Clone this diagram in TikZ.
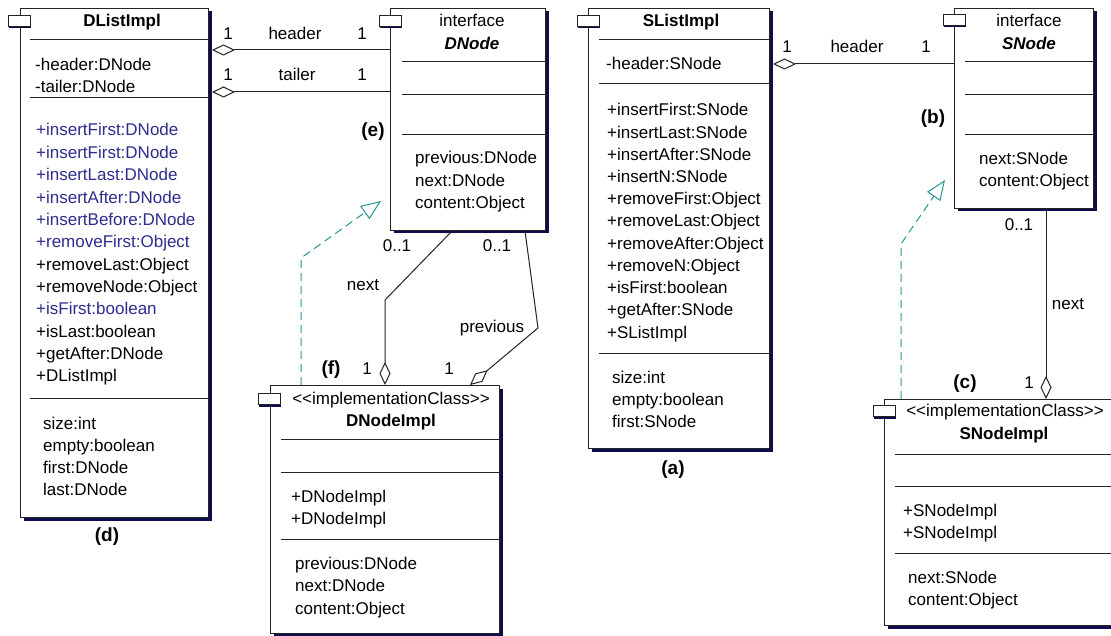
\documentclass[tikz,border=0pt]{standalone}
\usepackage{fontspec}
\setmainfont{Liberation Sans}
\usetikzlibrary{arrows.meta,shadows}
\definecolor{umlnavy}{RGB}{12,12,78}
\definecolor{umlblue}{RGB}{45,45,140}
\definecolor{umlteal}{RGB}{40,150,150}
\definecolor{umlline}{RGB}{35,35,35}

\tikzset{
  cls/.style={draw=umlline, fill=white, line width=1pt, anchor=north west, inner sep=0pt,
    drop shadow={shadow xshift=3pt, shadow yshift=-3pt, fill=umlnavy, opacity=1}},
  tabbox/.style={draw=umlline, fill=white, line width=1pt, anchor=north west, inner sep=0pt,
    minimum width=22pt, minimum height=11pt,
    drop shadow={shadow xshift=0pt, shadow yshift=-2pt, fill=umlnavy, opacity=1}},
  sep/.style={umlline, line width=1pt},
  txt/.style={anchor=west, inner sep=0pt, text height=12pt, text depth=0pt, font=\fontsize{17}{20}\selectfont},
  ctxt/.style={txt, anchor=center},
  ttl/.style={ctxt, font=\fontsize{17}{20}\selectfont\bfseries},
  tag/.style={ctxt, font=\fontsize{19}{22}\selectfont\bfseries},
  aggr/.style={umlline, line width=1pt, {Diamond[fill=white, length=23pt, width=11pt]}-},
  aggrend/.style={umlline, line width=1pt, -{Diamond[fill=white, length=23pt, width=11pt]}},
  realize/.style={umlteal, line width=1pt, dash pattern=on 8pt off 5pt, -{Triangle[open, length=20pt, width=16pt]}},
}
\newcommand{\stereo}[1]{<\kern0pt<#1>\kern0pt>}

\begin{document}
\begin{tikzpicture}[x=1pt,y=-1pt]
\fill[white] (0,0) rectangle (1111,636);
\useasboundingbox (0,0) rectangle (1111,636);

% DListImpl
\node[cls, minimum width=188pt, minimum height=509pt] (dlist) at (20,8) {};
\node[tabbox] (dlisttab) at (8,15) {};
\node[ttl] (dlistname) at (122,21) {DListImpl};
\draw[sep] (30,40) -- (208,40);
\draw[sep] (30,98) -- (208,98);
\draw[sep] (30,398) -- (208,398);
\node[txt] (dlh) at (35,65) {-header:DNode};
\node[txt] (dlt) at (35,87) {-tailer:DNode};
\foreach \t/\c [count=\i from 0] in {insertFirst:DNode/umlblue, insertFirst:DNode/umlblue,
    insertLast:DNode/umlblue, insertAfter:DNode/umlblue, insertBefore:DNode/umlblue,
    removeFirst:Object/umlblue, removeLast:Object/black, removeNode:Object/black,
    isFirst:boolean/umlblue, isLast:boolean/black, getAfter:DNode/black, DListImpl/black}
  \node[txt, text=\c] (dlop\i) at (36,130+22.36*\i) {+\t};
\node[txt] (dlsize) at (43,423) {size:int};
\node[txt] (dlempty) at (43,445) {empty:boolean};
\node[txt] (dlfirst) at (43,467) {first:DNode};
\node[txt] (dllast) at (43,489) {last:DNode};
\node[tag] (tagd) at (107,535) {(d)};

% DNode
\node[cls, minimum width=155pt, minimum height=222pt] (dnode) at (390,8) {};
\node[tabbox] (dnodetab) at (379,15) {};
\node[ctxt] (dnodest) at (472,21) {interface};
\node[ttl, font=\fontsize{17}{20}\selectfont\bfseries\itshape] (dnodename) at (472,44) {DNode};
\draw[sep] (402,62) -- (545,62);
\draw[sep] (402,95) -- (545,95);
\draw[sep] (402,135) -- (545,135);
\node[txt] (dnprev) at (415,158) {previous:DNode};
\node[txt] (dnnext) at (415,181) {next:DNode};
\node[txt] (dncont) at (415,203) {content:Object};
\node[tag] (tage) at (373,131) {(e)};

% DNodeImpl
\node[cls, minimum width=229pt, minimum height=248pt] (dimpl) at (270,385) {};
\node[tabbox] (dimpltab) at (258,393) {};
\node[ctxt] (dimplst) at (391,398) {\stereo{implementationClass}};
\node[ttl] (dimplname) at (391,420) {DNodeImpl};
\draw[sep] (281,439) -- (499,439);
\draw[sep] (281,472) -- (499,472);
\draw[sep] (281,539) -- (499,539);
\node[txt] (diop0) at (291,496) {+DNodeImpl};
\node[txt] (diop1) at (291,518) {+DNodeImpl};
\node[txt] (diprev) at (295,563) {previous:DNode};
\node[txt] (dinext) at (295,585) {next:DNode};
\node[txt] (dicont) at (295,608) {content:Object};
\node[tag] (tagf) at (331,368) {(f)};

% DListImpl -- DNode
\draw[aggr] ([xshift=3pt,yshift=-42pt]dlist.north east) -- ([yshift=-42pt]dnode.north west);
\draw[aggr] ([xshift=3pt,yshift=-84pt]dlist.north east) -- ([yshift=-84pt]dnode.north west);
\node[ctxt] (hdm1) at (228,34) {1};
\node[ctxt] (hdlab) at (295,34) {header};
\node[ctxt] (hdm2) at (362,34) {1};
\node[ctxt] (tlm1) at (228,75) {1};
\node[ctxt] (tllab) at (297,75) {tailer};
\node[ctxt] (tlm2) at (362,75) {1};

% DNodeImpl -- DNode
\coordinate (dnbend) at (385,300);
\coordinate (dpbend) at (538,328);
\coordinate (drbend) at (301,258);
\coordinate (drtip) at (381,201);
\draw[aggrend] ([xshift=62pt]dnode.south west) -- (dnbend) -- (dnbend |- dimpl.north);
\draw[aggrend] ([xshift=135pt]dnode.south west) -- (dpbend) -- ([xshift=200pt]dimpl.north west);
\draw[realize] ([xshift=31pt]dimpl.north west) -- (drbend) -- (drtip);
\node[ctxt] (nxm1) at (397,246) {0..1};
\node[ctxt] (nxlab) at (363,285) {next};
\node[ctxt] (nxm2) at (367,368) {1};
\node[ctxt] (pvm1) at (497,246) {0..1};
\node[ctxt] (pvlab) at (492,327) {previous};
\node[ctxt] (pvm2) at (449,368) {1};

% SListImpl
\node[cls, minimum width=181pt, minimum height=440pt] (slist) at (588,8) {};
\node[tabbox] (slisttab) at (577,15) {};
\node[ttl] (slistname) at (681,21) {SListImpl};
\draw[sep] (599,40) -- (769,40);
\draw[sep] (599,84) -- (769,84);
\draw[sep] (599,353) -- (769,353);
\node[txt] (slh) at (606,64) {-header:SNode};
\foreach \t [count=\i from 0] in {insertFirst:SNode, insertLast:SNode, insertAfter:SNode,
    insertN:SNode, removeFirst:Object, removeLast:Object, removeAfter:Object,
    removeN:Object, isFirst:boolean, getAfter:SNode, SListImpl}
  \node[txt] (slop\i) at (607,110+22.2*\i) {+\t};
\node[txt] (slsize) at (612,377) {size:int};
\node[txt] (slempty) at (612,399) {empty:boolean};
\node[txt] (slfirst) at (612,421) {first:SNode};
\node[tag] (taga) at (673,468) {(a)};

% SNode
\node[cls, minimum width=139pt, minimum height=200pt] (snode) at (954,8) {};
\node[tabbox] (snodetab) at (943,14) {};
\node[ctxt] (snodest) at (1029,21) {interface};
\node[ttl, font=\fontsize{17}{20}\selectfont\bfseries\itshape] (snodename) at (1029,44) {SNode};
\draw[sep] (965,62) -- (1093,62);
\draw[sep] (965,95) -- (1093,95);
\draw[sep] (965,135) -- (1093,135);
\node[txt] (snnext) at (979,159) {next:SNode};
\node[txt] (sncont) at (979,181) {content:Object};
\node[tag] (tagb) at (933,118) {(b)};

% SNodeImpl
\node[cls, minimum width=232pt, minimum height=226pt] (simpl) at (884,399) {};
\node[tabbox] (simpltab) at (873,405) {};
\node[ctxt] (simplst) at (1005,410) {\stereo{implementationClass}};
\node[ttl] (simplname) at (1004,433) {SNodeImpl};
\draw[sep] (895,454) -- (1116,454);
\draw[sep] (895,486) -- (1116,486);
\draw[sep] (895,553) -- (1116,553);
\node[txt] (siop0) at (903,510) {+SNodeImpl};
\node[txt] (siop1) at (903,532) {+SNodeImpl};
\node[txt] (sinext) at (908,577) {next:SNode};
\node[txt] (sicont) at (908,599) {content:Object};
\node[tag] (tagc) at (965,382) {(c)};

% SListImpl -- SNode -- SNodeImpl
\draw[aggr] ([xshift=3pt,yshift=-56pt]slist.north east) -- ([yshift=-56pt]snode.north west);
\node[ctxt] (shm1) at (787,47) {1};
\node[ctxt] (shlab) at (857,47) {header};
\node[ctxt] (shm2) at (926,47) {1};
\coordinate (srbend) at (901,244);
\coordinate (srtip) at (945,180);
\draw[aggrend] ([xshift=92pt]snode.south west) -- ([xshift=162pt]simpl.north west);
\draw[realize] ([xshift=17pt]simpl.north west) -- (srbend) -- (srtip);
\node[ctxt] (snm1) at (1019,225) {0..1};
\node[ctxt] (snlab) at (1068,304) {next};
\node[ctxt] (snm2) at (1029,382) {1};
\end{tikzpicture}
\end{document}
